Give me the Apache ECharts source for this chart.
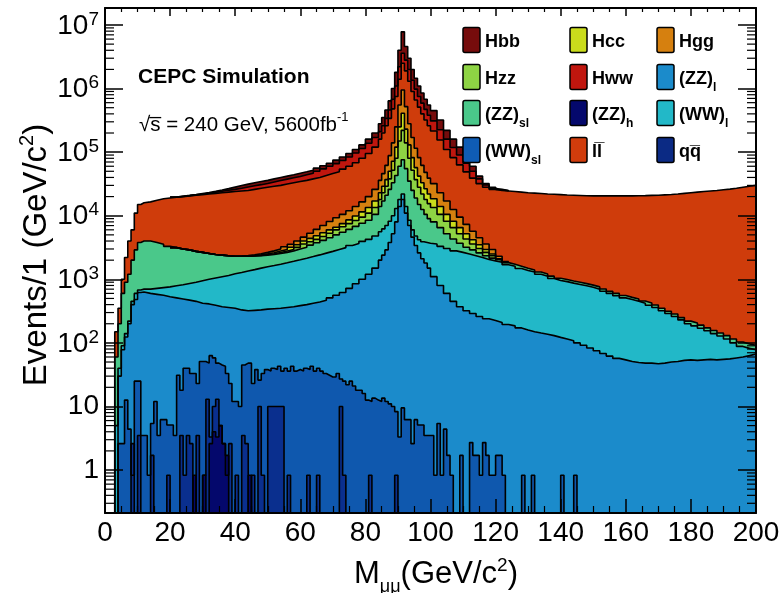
<!DOCTYPE html>
<html>
<head>
<meta charset="utf-8">
<title>M_mumu stacked backgrounds</title>
<script src="https://cdn.jsdelivr.net/npm/echarts@6.0.0/dist/echarts.min.js"></script>
<style>
  html, body { margin: 0; padding: 0; background: #fff; }
  #main { width: 784px; height: 593px; }
</style>
</head>
<body>
<div id="main"></div>
<script>
// ---- bin edges (GeV) ----
// broad layers: 1 GeV at threshold and around the Z peak, 2 GeV elsewhere
var edges = [0,2,3,4,5,6,7,8,9,10,11,12,
  14,16,18,20,22,24,26,28,30,32,34,36,38,40,42,44,46,48,50,52,54,56,58,60,62,64,66,68,70,72,74,76,78,80,82,84,
  85,86,87,88,89,90,91,92,93,94,95,96,97,98,99,100,
  102,104,106,108,110,112,114,116,118,120,122,124,126,128,130,132,134,136,138,140,142,144,146,148,150,
  152,154,156,158,160,162,164,166,168,170,172,174,176,178,180,182,184,186,188,190,192,194,196,198,200];
// Higgs-like layers only differ from the layer below between 20 and 124 GeV
var peakEdges = [20,22,24,26,28,30,32,34,
  36,38,40,42,44,46,48,50,52,54,56,58,60,62,64,66,68,70,72,74,76,78,80,82,84,
  85,86,87,88,89,90,91,92,93,94,95,96,97,98,99,100,
  102,104,106,108,110,112,114,116,118,120,122,124];

// ---- stacked heights (top of each layer, events per bin) ----
var topZZl = [0,0,0,30,78,124,200,400,480,620,630,
  600,580,560,530,510,490,470,450,420,410,390,370,360,350,330,320,325,330,340,345,350,360,370,385,400,420,440,470,510,560,620,720,850,1000,1200,1500,
  2000,2400,2900,3800,5200,8000,14000,18000,11000,7000,4600,3400,2600,2100,1800,1500,
  1100,800,600,450,370,320,290,260,240,225,210,195,185,172,160,150,143,137,130,122,115,108,100,92,83,
  75,68,62,57,54,51,49,48,48,47,48,50,51,53,54,53,54,55,54,55,56,58,60,63,67];
var topWWl = [0,0,5,40,90,140,220,450,600,680,700,
  700,720,740,760,790,820,860,900,950,1000,1050,1100,1150,1220,1280,1350,1420,1500,1580,1650,1730,1820,1920,2030,2150,2280,2420,2580,2750,2950,3150,3400,3650,3950,4250,4800,
  5600,6200,7000,8200,10000,13000,18000,22000,14000,8500,6000,4800,4200,3900,3800,3700,
  3600,3300,3050,2800,2650,2500,2350,2200,2050,1950,1850,1700,1600,1480,1380,1300,1200,1120,1030,960,
  920,870,830,790,750,700,650,600,550,510,480,450,420,390,360,320,290,260,230,200,185,170,155,140,128,115,100,88,82,78];
var topZZsl = [0,0,60,200,600,900,1200,2000,2900,3800,4000,
  4000,3800,3550,3300,3150,3000,2900,2750,2650,2550,2450,2400,2350,2300,2300,2300,2320,2350,2400,2450,2550,2650,2800,3000,3200,3450,3750,4100,4500,5000,5500,6100,6800,7600,8500,10500,
  14000,17000,21000,26000,33000,43000,60000,76000,55000,35000,25000,19000,15000,12500,10500,9000,
  8000,6500,5200,4300,3700,3200,2900,2600,2350,2150,2000,1830,1720,1600,1490,1400,1300,1210,1120,1040,
  990,940,900,855,810,760,705,650,600,555,520,490,455,425,395,350,315,285,250,220,205,190,172,157,143,130,115,103,96,92];
var topLL = [0,0,150,350,1000,2200,4000,6000,11000,15000,16000,
  16500,17500,18500,19000,19500,20000,20500,21000,21500,22000,22500,23000,23500,24000,24500,25000,26000,27000,28000,29000,30000,31500,33000,34500,36000,38000,40000,43000,46000,49000,54000,60000,68000,80000,95000,120000,
  160000,200000,260000,340000,480000,750000,1400000,2500000,1900000,1300000,900000,660000,510000,400000,320000,260000,
  215000,155000,110000,82000,63000,49000,39000,32000,28000,26000,25000,24500,24000,23500,23000,22700,22400,22000,21800,21500,
  21200,21000,20800,20600,20500,20500,20500,20500,20500,20500,20500,20600,20700,20900,21000,21300,21600,22000,22500,23000,
  23500,24000,24500,25000,25600,26200,27000,28000,29000,30000];

var topHzz = [3150,3000,2900,2750,2650,2550,2450,2400,
  2350,2300,2300,2310,2340,2380,2450,2520,2640,2780,2950,3180,3600,3900,4250,4700,5300,6000,6700,7500,8400,9500,11000,13500,
  18000,23000,29000,38000,52000,80000,150000,220000,140000,80000,52000,37000,28000,22000,18000,15500,
  13500,10500,8200,6500,5200,4300,3600,3050,2650,2350,2050,1850];
var topHcc = [3150,3000,2900,2750,2650,2550,2450,2400,
  2350,2300,2310,2330,2370,2430,2520,2620,2780,2950,3200,3500,4000,4400,4850,5400,6000,6600,7500,8600,9900,11500,13500,17000,
  23000,29000,37000,50000,72000,120000,250000,410000,230000,130000,82000,57000,42000,33000,26500,22000,
  18500,14000,10500,8200,6500,5200,4200,3500,2950,2500,2100,1870];
var topHgg = [3150,3000,2900,2750,2650,2550,2450,2400,
  2350,2310,2330,2370,2430,2520,2650,2800,3000,3250,3550,4000,4600,5300,6100,7000,8100,9300,10500,12000,14000,16500,20000,26000,
  36000,46000,62000,88000,140000,250000,550000,950000,520000,280000,170000,115000,82000,62000,48000,39000,
  32000,23000,17000,12500,9500,7300,5700,4500,3600,2950,2300,1900];
var topHww = [19600,20150,20700,21300,21900,22600,23400,24200,
  25100,26000,27000,28300,29600,30800,32200,34000,35800,37600,39500,41500,44000,46500,50000,54500,60000,66000,74000,84000,97000,114000,138000,170000,
  210000,260000,340000,460000,680000,1100000,2200000,3600000,2800000,2000000,1350000,980000,750000,590000,470000,380000,
  310000,225000,160000,118000,90000,67000,50000,38000,30500,27000,25500,24700];
var topHbb = [19700,20300,20900,21600,22400,23200,24200,25400,
  26700,28200,29800,31400,33000,34500,36000,38000,40000,42000,44000,46500,49000,52000,56000,61000,67000,75000,84000,95000,110000,130000,160000,200000,
  280000,350000,460000,640000,1000000,1800000,4000000,7800000,4600000,3000000,2000000,1450000,1100000,850000,680000,550000,
  450000,320000,220000,160000,120000,85000,60000,42000,32000,28000,26000,25000];

// low layers, 1 GeV bins starting at 0 GeV
var topWWsl = [0,0,0,0,2.6,2.6,12.6,4.4,0.83,25,25,3.5,3.5,0.83,5.4,12,3.5,6.2,6.2,5.1,
  5.1,3.5,31,18,40,40,33,33,23,51,51,48,63,58,48,45,43,33,23,12,
  12,10,45,48,48,23,38,26,33,38,36,40,38,43,36,40,36,43,36,38,
  36,40,38,43,36,40,36,33,31,29,29,33,27,25,22,25,21,18,18,16,
  12.6,12,13.5,12.6,12,13.5,12,11,10,8.3,3.3,9.5,6.2,6.2,2.6,6.2,5.1,5.1,3.5,3.5,
  3.5,0.83,5.4,0.83,4.4,1.7,0.83,0,0,1.7,0,0,2.7,1.7,1.7,0.83,2.7,1.7,0.83,0.83,
  1.7,1.7,0.83,0,0,0,0,0,0.83,0,0,0.83,0,0,0,0,0,0,0,0,
  0.83,0,0,0,0.83,0];
// [bin low edge GeV, height] for the sparse spikes
var topQQ = [[8,2.6],[10,3.5],[14,1.7],[19,0.83],[23,3.5],[24,0.83],[25,3.5],[26,2.6],[28,3.5],[30,0.83],
  [31,13],[32,3.3],[33,10],[34,13],[35,5],[36,2.6],[37,0.83],[38,2.6],[40,0.83],[42,3.5],[43,2.6],[45,0.83],
  [47,10],[48,0.83],[50,10],[51,10],[52,10],[53,10],[54,10],[56,0.83],[62,0.83],[65,0.83],[72,10],[73,0.83],[81,0.83],[89,0.83]];
var topZZh = [[27,0.83],[30,0.83],[32,2.6],[33,4],[34,3.3],[35,5],[36,2.6],[37,1.7],[44,0.83]];

var legendNames = ['Hbb','Hcc','Hgg','Hzz','Hww','(ZZ){sub|l}','(ZZ){sub|sl}','(ZZ){sub|h}','(WW){sub|l}','(WW){sub|sl}','ll\u0305','qq\u0305'];
var legendColors = ['#760c0c','#cadc1c','#d6800f','#8ed444','#c0160e','#1b8bcb','#4ac88a','#04086c','#22b8c8','#0f5cb4','#d03c0c','#0b2a84'];
var colour = {
  Hbb: '#760c0c', Hcc: '#cadc1c', Hgg: '#d6800f', Hzz: '#8ed444', Hww: '#c0160e',
  ZZl: '#1b8bcb', ZZsl: '#4ac88a', ZZh: '#04086c', WWl: '#22b8c8', WWsl: '#0f58ae', ll: '#cf3c0b', qq: '#0a2f8e'
};

var Y_MIN = 0.211, Y_MAX = 1.85e7, FLOOR = 1e-3;

function stepPoints(edgeList, vals) {
  var pts = [];
  for (var i = 0; i < vals.length; i++) pts.push([edgeList[i], vals[i] > 0 ? vals[i] : FLOOR]);
  var last = vals[vals.length - 1];
  pts.push([edgeList[vals.length], last > 0 ? last : FLOOR]);
  return pts;
}
var unitEdges = [];
for (var g = 0; g <= 200; g++) unitEdges.push(g);
function sparseToBins(pairs) {
  var vals = [];
  for (var i = 0; i < 146; i++) vals.push(0);
  pairs.forEach(function (p) { vals[p[0]] = p[1]; });
  return vals;
}

function layer(name, color, pts) {
  return {
    name: name, type: 'line', step: 'end', data: pts,
    symbol: 'none', showSymbol: false, silent: true, z: 2,
    lineStyle: { color: '#000', width: 1.6 },
    areaStyle: { color: color, opacity: 1, origin: 'start' },
    itemStyle: { color: color },
    emphasis: { disabled: true }
  };
}

// minor log ticks 2..9 x 10^k
var minorVals = [];
for (var k = -1; k <= 7; k++) {
  for (var m = 2; m <= 9; m++) {
    var v = m * Math.pow(10, k);
    if (v > Y_MIN && v < Y_MAX) minorVals.push([0, v]);
  }
}

var sansN = '"Liberation Sans Narrow", "Liberation Sans", Arial, sans-serif';
var sans = '"Liberation Sans", Arial, sans-serif';

var myChart = echarts.init(document.getElementById('main'), null, { renderer: 'canvas' });

var legendGraphics = [];
var colX = [463, 570, 657], rowY = [40, 77, 113, 150];
legendNames.forEach(function (n, i) {
  var cx = colX[i % 3], cy = rowY[Math.floor(i / 3)];
  legendGraphics.push({
    type: 'rect', shape: { x: cx, y: cy - 12.5, width: 17, height: 25, r: 2 },
    style: { fill: legendColors[i], stroke: '#000', lineWidth: 1.5 }, z: 100
  });
  legendGraphics.push({
    type: 'text', x: cx + 22, y: cy,
    style: {
      text: '{m|' + n.replace(/\{sub\|([^}]*)\}/g, '}{sub|$1}{m|') + '}',
      verticalAlign: 'middle', fill: '#000',
      rich: {
        m: { fontFamily: sans, fontWeight: 'bold', fontSize: 18, lineHeight: 22, verticalAlign: 'bottom' },
        sub: { fontFamily: sans, fontWeight: 'bold', fontSize: 12, lineHeight: 12, verticalAlign: 'bottom', padding: [0, 0, -6, 0] }
      }
    }, z: 100
  });
});

var option = {
  animation: false,
  backgroundColor: '#fff',
  grid: { left: 105, right: 28, top: 8, bottom: 80, containLabel: false, outerBoundsMode: 'none' },
  xAxis: [{
    type: 'value', min: 0, max: 200, interval: 20, position: 'bottom', z: 10,
    axisLine: { show: true, onZero: false, lineStyle: { color: '#000', width: 2 } },
    axisTick: { show: true, inside: true, length: 14, lineStyle: { color: '#000', width: 1.5 } },
    minorTick: { show: true, splitNumber: 4, length: 7, lineStyle: { color: '#000', width: 1.2 } },
    axisLabel: { color: '#000', fontFamily: sansN, fontSize: 28, margin: 6 },
    splitLine: { show: false }
  }, {
    type: 'value', min: 0, max: 200, interval: 20, position: 'top', z: 10,
    axisLine: { show: true, onZero: false, lineStyle: { color: '#000', width: 2 } },
    axisTick: { show: true, inside: true, length: 8, lineStyle: { color: '#000', width: 1.5 } },
    minorTick: { show: true, splitNumber: 4, length: 4, lineStyle: { color: '#000', width: 1.2 } },
    axisLabel: { show: false },
    splitLine: { show: false }
  }],
  yAxis: [{
    type: 'log', logBase: 10, min: Y_MIN, max: Y_MAX, splitNumber: 8, position: 'left', z: 10,
    axisLine: { show: true, onZero: false, lineStyle: { color: '#000', width: 2 } },
    axisTick: { show: true, inside: true, length: 18, lineStyle: { color: '#000', width: 1.5 } },
    axisLabel: {
      color: '#000', margin: 6, showMinLabel: false, showMaxLabel: false,
      formatter: function (val) {
        var p = Math.round(Math.log10(val));
        if (Math.abs(Math.log10(val) - p) > 0.01) return '';
        if (p >= 2) return '{b|10}{s|' + p + '}';
        if (p === 1) return '{c|10}';
        if (p === 0) return '{c|1}';
        return '';
      },
      rich: {
        b: { fontFamily: sansN, fontSize: 28, lineHeight: 30, padding: [14, 0, 0, 0], verticalAlign: 'bottom', color: '#000' },
        s: { fontFamily: sansN, fontSize: 19, lineHeight: 19, verticalAlign: 'top', color: '#000' },
        c: { fontFamily: sansN, fontSize: 28, lineHeight: 30, color: '#000' }
      }
    },
    splitLine: { show: false }
  }, {
    type: 'log', logBase: 10, min: Y_MIN, max: Y_MAX, splitNumber: 8, position: 'right', z: 10,
    axisLine: { show: true, onZero: false, lineStyle: { color: '#000', width: 2 } },
    axisTick: { show: true, inside: true, length: 18, lineStyle: { color: '#000', width: 1.5 } },
    axisLabel: { show: false },
    splitLine: { show: false }
  }],
  series: [
    layer('Hbb', colour.Hbb, stepPoints(peakEdges, topHbb)),
    layer('Hww', colour.Hww, stepPoints(peakEdges, topHww)),
    layer('ll', colour.ll, stepPoints(edges, topLL)),
    layer('Hgg', colour.Hgg, stepPoints(peakEdges, topHgg)),
    layer('Hcc', colour.Hcc, stepPoints(peakEdges, topHcc)),
    layer('Hzz', colour.Hzz, stepPoints(peakEdges, topHzz)),
    layer('ZZsl', colour.ZZsl, stepPoints(edges, topZZsl)),
    layer('WWl', colour.WWl, stepPoints(edges, topWWl)),
    layer('ZZl', colour.ZZl, stepPoints(edges, topZZl)),
    layer('WWsl', colour.WWsl, stepPoints(unitEdges, topWWsl)),
    layer('qq', colour.qq, stepPoints(unitEdges, sparseToBins(topQQ))),
    layer('ZZh', colour.ZZh, stepPoints(unitEdges, sparseToBins(topZZh))),
    {
      // minor ticks of the log axes, left and right frame
      type: 'custom', silent: true, z: 20, data: minorVals,
      encode: { x: 0, y: 1 },
      renderItem: function (params, api) {
        var val = api.value(1);
        var pl = api.coord([0, val]);
        var pr = api.coord([200, val]);
        return {
          type: 'group', children: [
            { type: 'line', shape: { x1: pl[0], y1: pl[1], x2: pl[0] + 9, y2: pl[1] }, style: { stroke: '#000', lineWidth: 1.2 } },
            { type: 'line', shape: { x1: pr[0] - 9, y1: pr[1], x2: pr[0], y2: pr[1] }, style: { stroke: '#000', lineWidth: 1.2 } }
          ]
        };
      }
    }
  ],
  graphic: legendGraphics.concat([
    {
      type: 'text', x: 138, y: 77, z: 100,
      style: { text: 'CEPC Simulation', fontFamily: sans, fontWeight: 'bold', fontSize: 21, fill: '#000', verticalAlign: 'middle' }
    },
    {
      type: 'text', x: 139, y: 123, z: 100,
      style: {
        text: '{m|\u221As\u0305 = 240 GeV, 5600fb}{p|-1}', verticalAlign: 'middle',
        rich: {
          m: { fontFamily: sans, fontSize: 20.5, lineHeight: 25, verticalAlign: 'bottom', color: '#000' },
          p: { fontFamily: sans, fontSize: 13, lineHeight: 13, verticalAlign: 'top', color: '#000' }
        }
      }
    },
    {
      type: 'text', x: 35, y: 255, rotation: Math.PI / 2, z: 100,
      style: {
        text: '{m|Events/1 (GeV/c}{p|2}{m|)}', align: 'center', verticalAlign: 'middle',
        rich: {
          m: { fontFamily: sans, fontSize: 33, lineHeight: 36, verticalAlign: 'bottom', color: '#000' },
          p: { fontFamily: sans, fontSize: 20, lineHeight: 20, verticalAlign: 'top', color: '#000' }
        }
      }
    },
    {
      type: 'text', x: 436, y: 573, z: 100,
      style: {
        text: '{m|M}{b|\u03bc\u03bc}{m|(GeV/c}{p|2}{m|)}', align: 'center', verticalAlign: 'middle',
        rich: {
          m: { fontFamily: sans, fontSize: 31, lineHeight: 34, verticalAlign: 'bottom', color: '#000' },
          b: { fontFamily: sans, fontSize: 18, lineHeight: 18, verticalAlign: 'bottom', padding: [0, 0, -6, 0], color: '#000' },
          p: { fontFamily: sans, fontSize: 19, lineHeight: 19, verticalAlign: 'top', color: '#000' }
        }
      }
    }
  ])
};

myChart.setOption(option);
</script>
</body>
</html>
